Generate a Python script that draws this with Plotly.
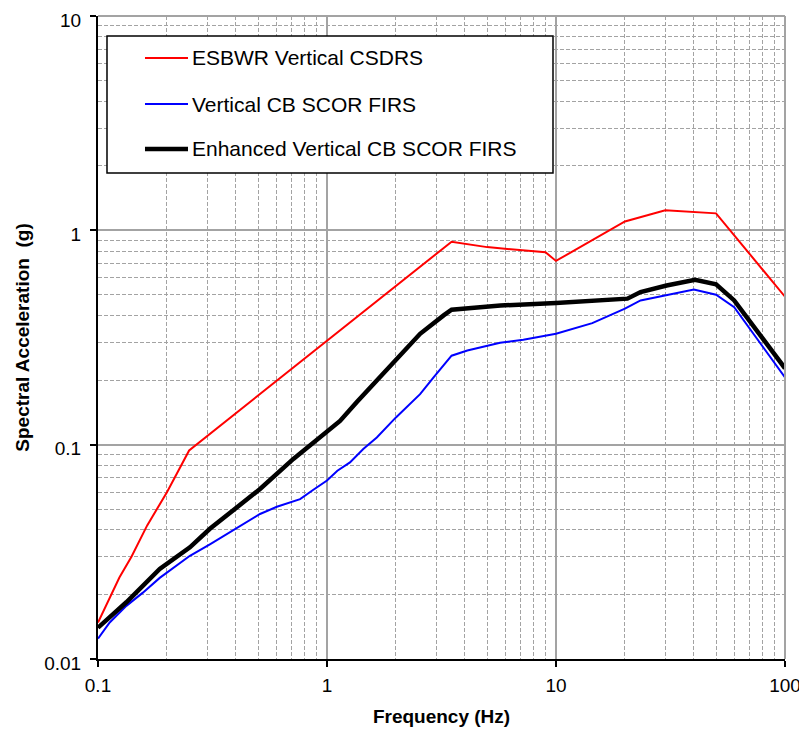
import numpy as np
import plotly.graph_objects as go

# ---- data ----
red_name = "ESBWR Vertical CSDRS"
red_x = [0.1, 0.124, 0.14, 0.164, 0.2, 0.25, 3.5, 5.0, 9.0, 10.0, 20.0, 30.0, 50.0, 100.0]
red_y = [0.0148, 0.024, 0.030, 0.042, 0.060, 0.094, 0.885, 0.835, 0.79, 0.72, 1.10, 1.24, 1.20, 0.49]

blue_name = "Vertical CB SCOR FIRS"
blue_x = [0.1, 0.1125, 0.133, 0.157, 0.186, 0.252, 0.308, 0.404, 0.51, 0.604, 0.763, 0.872, 1.0,
          1.11, 1.26, 1.44, 1.65, 2.0, 2.55, 2.92, 3.5, 4.1, 4.66, 5.7, 7.2, 10.0, 14.4, 20.0,
          23.4, 30.0, 40.0, 50.0, 60.0, 100.0]
blue_y = [0.01245, 0.0148, 0.0177, 0.0204, 0.0239, 0.0303, 0.0343, 0.0410, 0.0475, 0.0513, 0.0557,
          0.0616, 0.068, 0.0756, 0.0826, 0.0955, 0.108, 0.134, 0.172, 0.206, 0.26, 0.275, 0.285,
          0.299, 0.309, 0.329, 0.369, 0.431, 0.471, 0.497, 0.53, 0.501, 0.438, 0.206]

black_name = "Enhanced Vertical CB SCOR FIRS"
black_x = [0.1, 0.133, 0.186, 0.252, 0.308, 0.404, 0.51, 0.713, 1.0, 1.14, 1.35, 1.99, 2.55, 3.23,
           3.5, 4.66, 5.72, 10.0, 16.7, 20.5, 23.4, 30.4, 40.5, 50.0, 60.0, 100.0]
black_y = [0.014, 0.0184, 0.0263, 0.0332, 0.0405, 0.0509, 0.0621, 0.0858, 0.116, 0.129, 0.158,
           0.247, 0.329, 0.401, 0.426, 0.438, 0.446, 0.458, 0.474, 0.48, 0.515, 0.553, 0.588,
           0.56, 0.471, 0.227]

x_ticks = [0.1, 1, 10, 100]
x_tick_text = ["0.1", "1", "10", "100"]
y_ticks = [0.01, 0.1, 1, 10]
y_tick_text = ["0.01", "0.1", "1", "10"]

x_title = "Frequency (Hz)"
y_title = "Spectral Acceleration  (g)"

FONT = "Liberation Sans, Arial, sans-serif"

def minor_vals(lo_exp, hi_exp):
    return [m * 10.0 ** e for e in range(lo_exp, hi_exp) for m in range(2, 10)]

series = [
    (red_name, red_x, red_y, "#ff0000", 2),
    (blue_name, blue_x, blue_y, "#0000ff", 2),
    (black_name, black_x, black_y, "#000000", 4.5),
]

fig = go.Figure()
for name, xs, ys, col, w in series:
    fig.add_trace(go.Scatter(x=xs, y=ys, mode="lines", name=name,
                             line=dict(color=col, width=w), showlegend=False))

grid_major = "#a3a3a3"
grid_minor = "#a3a3a3"

common = dict(
    type="log",
    tickfont=dict(family=FONT, size=19, color="#000"),
    ticks="outside", ticklen=6, tickwidth=1.5, tickcolor="#000",
    showline=True, linecolor="#000", linewidth=2,
    showgrid=True, gridcolor=grid_major, gridwidth=1.5,
    zeroline=False, automargin=False, ticklabeloverflow="allow",
)

fig.update_xaxes(
    range=[-1, 2], tickvals=x_ticks, ticktext=x_tick_text, ticklabelstandoff=2,
    minor=dict(tickvals=minor_vals(-1, 2), showgrid=True, gridcolor=grid_minor,
               griddash="4px,2px", gridwidth=1, ticks=""),
    title=dict(text="<b>" + x_title + "</b>", font=dict(family=FONT, size=19, color="#000"),
               standoff=20),
    **common,
)
fig.update_yaxes(
    range=[-2, 1], tickvals=y_ticks, ticktext=y_tick_text, ticklabelstandoff=5,
    ticklabelshift=4,
    minor=dict(tickvals=minor_vals(-2, 1), showgrid=True, gridcolor=grid_minor,
               griddash="4px,2px", gridwidth=1, ticks=""),
    title=dict(text="<b>" + y_title + "</b>", font=dict(family=FONT, size=19, color="#000"),
               standoff=10),
    **common,
)

# top / right frame in grey
fig.add_shape(type="line", xref="paper", yref="paper", x0=0, x1=1, y0=1, y1=1,
              line=dict(color=grid_major, width=2))
fig.add_shape(type="line", xref="paper", yref="paper", x0=1, x1=1, y0=0, y1=1,
              line=dict(color=grid_major, width=2))

# legend box (paper coordinates)
leg_x0, leg_x1, leg_y0, leg_y1 = 0.0131, 0.6623, 0.7558, 0.9689
fig.add_shape(type="rect", xref="paper", yref="paper", x0=leg_x0, x1=leg_x1, y0=leg_y0, y1=leg_y1,
              fillcolor="white", line=dict(color="#000", width=1.5), layer="above")
row_y = [0.9347, 0.8631, 0.7932]
for (name, xs, ys, col, w), ry in zip(series, row_y):
    fig.add_shape(type="line", xref="paper", yref="paper", x0=0.0684, x1=0.1310, y0=ry, y1=ry,
                  line=dict(color=col, width=w), layer="above")
    fig.add_annotation(xref="paper", yref="paper", x=0.1340, y=ry, text=name, showarrow=False,
                       xanchor="left", yanchor="middle",
                       font=dict(family=FONT, size=21, color="#000"))

# page body has an 8px margin: figure is sized so the plot lands where the reference has it
fig.update_layout(
    width=799, height=719,
    margin=dict(l=90, r=22, t=8, b=68),
    paper_bgcolor="white", plot_bgcolor="white",
    font=dict(family=FONT, color="#000"),
    showlegend=False,
)

fig.write_html("out.html")
